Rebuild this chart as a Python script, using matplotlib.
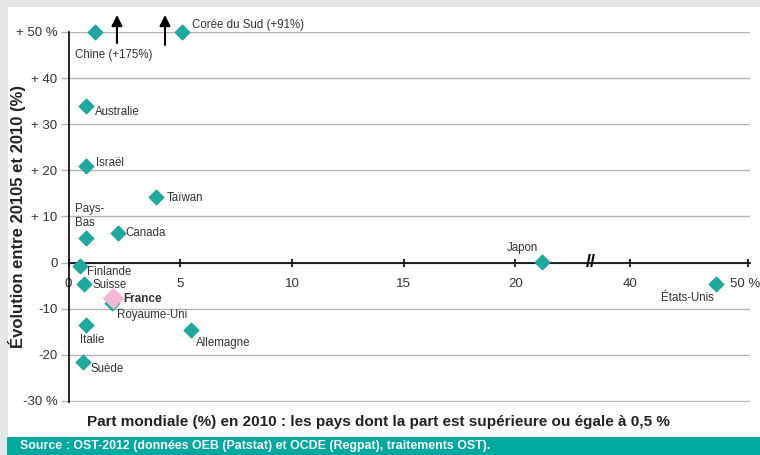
"""Part mondiale et évolution des brevets, pays >= 0,5 % (OST-2012)."""

import matplotlib
import numpy as np

matplotlib.use("Agg")
import matplotlib.pyplot as plt  # noqa: E402
import matplotlib.transforms as mtransforms  # noqa: E402
from matplotlib.patches import Rectangle  # noqa: E402

plt.rcParams["font.family"] = ["Liberation Sans", "DejaVu Sans"]

# Data: world share (%) in 2010, change (%)
countries = ["Chine (+175%)", "Corée du Sud (+91%)", "Australie", "Israël", "Taïwan",
             "Pays-\nBas", "Canada", "Finlande", "Suisse", "Royaume-Uni", "Italie",
             "Allemagne", "Suède", "Japon", "États-Unis"]
share = [1.2, 5.1, 0.8, 0.8, 3.9, 0.8, 2.2, 0.5, 0.7, 1.95, 0.8, 5.5, 0.65, 21.2, 47.3]
change = [50, 50, 34, 21, 14.2, 5.3, 6.4, -0.8, -4.6, -8.8, -13.5, -14.6, -21.6, 0.1, -4.6]
france_share = [2.0]
france_change = [-7.7]
# label offsets in pixels (dx, dy, ha)
offsets = [(-20, -23, "left"), (10, 7, "left"), (9, -6, "left"), (10, 3, "left"),
           (11, -1, "left"), (-11, 22, "left"), (8, 0, "left"), (7, -6, "left"),
           (8, -1, "left"), (5, -12, "left"), (-6, -15, "left"), (5, -13, "left"),
           (7, -7, "left"), (-20, 14, "center"), (-29, -14, "center")]

x_ticks = [0, 5, 10, 15, 20, 40, 50]
x_ticklabels = ["0", "5", "10", "15", "20", "40", "50 %"]
y_ticks = [-30, -20, -10, 0, 10, 20, 30, 40, 50]
y_ticklabels = ["-30 %", "-20", "-10", "0", "+ 10", "+ 20", "+ 30", "+ 40", "+ 50 %"]

TEAL = "#1fa99e"
PINK = "#f2b8d5"

# broken x axis: 22..40 is compressed
REAL = [-10, 0, 22, 40, 60]
SHOWN = [-10, 0, 22, 25.14, 35.72]


def forward(x):
    return np.interp(x, REAL, SHOWN)


def inverse(x):
    return np.interp(x, SHOWN, REAL)


fig = plt.figure(figsize=(7.6, 4.55), dpi=100, facecolor="#e6e7e8")
fig.patches.append(Rectangle((8 / 760, 1 - 437 / 455), 1, 430 / 455,
                             transform=fig.transFigure, facecolor="white",
                             edgecolor="none", zorder=-2))
fig.patches.append(Rectangle((7 / 760, 0), 1, 18 / 455, transform=fig.transFigure,
                             facecolor="#00a99d", edgecolor="none", zorder=-2))

ax = fig.add_axes([68.5 / 760, 1 - 402 / 455, 681 / 760, 370 / 455])
ax.set_facecolor("none")
ax.set_xscale("function", functions=(forward, inverse))
ax.set_xlim(0, 50.1)
ax.set_ylim(-30.22, 50)

for side in ["top", "right"]:
    ax.spines[side].set_visible(False)
ax.spines["bottom"].set_position(("data", 0))
ax.spines["bottom"].set_linewidth(1.2)
ax.spines["left"].set_linewidth(1.2)
ax.spines["left"].set_bounds(-30.22, 50)
ax.yaxis.grid(True, color="#b4b4b4", linewidth=1)
ax.set_axisbelow(True)

ax.set_xticks(x_ticks)
ax.set_xticklabels(x_ticklabels, fontsize=9.5, color="#333333")
ax.tick_params(axis="x", direction="inout", length=6, width=1.2, pad=8)
shift = mtransforms.ScaledTranslation(-3 / 100, 0, fig.dpi_scale_trans)
last = ax.get_xticklabels()[-1]
last.set_transform(last.get_transform() + shift)
ax.set_yticks(y_ticks)
ax.set_yticklabels(y_ticklabels, fontsize=9.5, color="#333333")
ax.tick_params(axis="y", direction="out", length=6, width=1, pad=2, color="#b4b4b4")

ax.scatter(share, change, marker="D", s=55, color=TEAL, zorder=3, clip_on=False)
ax.scatter(france_share, france_change, marker="D", s=100, color=PINK, zorder=4)

for name, x, y, (dx, dy, ha) in zip(countries, share, change, offsets):
    ax.annotate(name, (x, y), xytext=(dx, dy), textcoords="offset pixels",
                ha=ha, va="center", fontsize=8.3, color="#333333",
                annotation_clip=False)
ax.annotate("France", (france_share[0], france_change[0]), xytext=(10, -1),
            textcoords="offset pixels", ha="left", va="center", fontsize=8.5,
            fontweight="bold", color="#333333")
arrow_style = dict(arrowstyle="-|>", color="black", lw=1.5, mutation_scale=16,
                   shrinkA=0, shrinkB=0)
ax.annotate("", (2.17, 53.7), xytext=(2.17, 47.6), annotation_clip=False,
            arrowprops=arrow_style)
ax.annotate("", (4.32, 53.7), xytext=(4.32, 47.2), annotation_clip=False,
            arrowprops=arrow_style)
ax.text(29.8, 0, "//", ha="center", va="center", fontsize=13, fontweight="bold",
        color="black", zorder=5)

ax.set_ylabel("Évolution entre 20105 et 2010 (%)", fontsize=12, fontweight="bold",
              color="#222222")
ax.yaxis.set_label_coords(-42 / 681, 0.5)
fig.text(378 / 760, 1 - 422 / 455,
         "Part mondiale (%) en 2010 : les pays dont la part est supérieure ou égale à 0,5 %",
         ha="center", va="center", fontsize=11, fontweight="bold", color="#222222")
fig.text(20 / 760, 1 - 446 / 455,
         "Source : OST-2012 (données OEB (Patstat) et OCDE (Regpat), traitements OST).",
         ha="left", va="center", fontsize=8.9, fontweight="bold", color="white")

fig.savefig("out.png", dpi=100, facecolor=fig.get_facecolor())
